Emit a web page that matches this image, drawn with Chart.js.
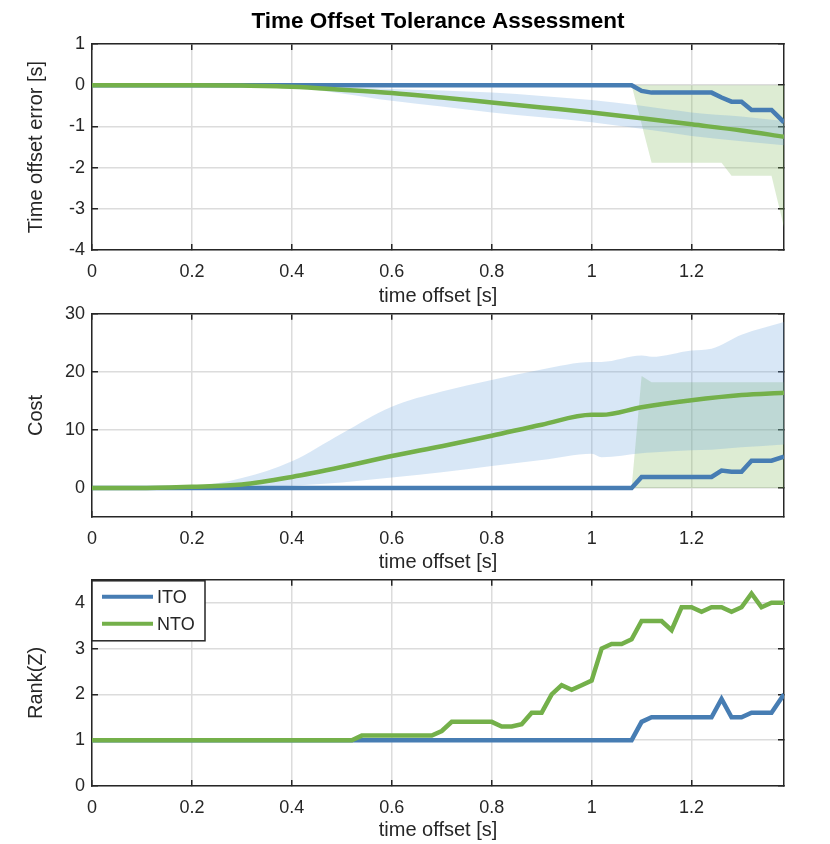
<!DOCTYPE html>
<html>
<head>
<meta charset="utf-8">
<script src="https://cdn.jsdelivr.net/npm/chart.js@4/dist/chart.umd.min.js"></script>
<style>
  body { margin: 0; background: #fff; }
  #fig { position: relative; width: 830px; height: 844px; }
  #fig canvas { position: absolute; left: 0; }
</style>
</head>
<body>
<div id="fig">
  <canvas id="errChart" width="830" height="310" style="top:0px"></canvas>
  <canvas id="costChart" width="830" height="287" style="top:290px"></canvas>
  <canvas id="rankChart" width="830" height="288" style="top:556px"></canvas>
</div>
<script>
// ---- data ----
const xTicks = [0, 0.2, 0.4, 0.6, 0.8, 1, 1.2];
const X_MAX = 1.385;

// time offset error [s]
const errItoX = [0, 1.08, 1.10, 1.12, 1.24, 1.26, 1.28, 1.30, 1.32, 1.36, 1.385];
const errItoY = [0, 0, -0.14, -0.18, -0.18, -0.3, -0.4, -0.4, -0.6, -0.6, -0.9];
const errNtoX = [0, 0.1, 0.2, 0.3, 0.4, 0.5, 0.6, 0.7, 0.8, 0.9, 1.0, 1.1, 1.2, 1.3, 1.385];
const errNtoY = [0, 0, 0, -0.01, -0.04, -0.11, -0.19, -0.3, -0.42, -0.54, -0.66, -0.8, -0.95, -1.1, -1.25];
const errBandX = [0, 0.3, 0.4, 0.5, 0.6, 0.7, 0.8, 0.9, 1.0, 1.1, 1.2, 1.3, 1.385];
const errBandHi = [0, 0, -0.02, -0.05, -0.09, -0.13, -0.18, -0.26, -0.36, -0.5, -0.66, -0.76, -0.87];
const errBandLo = [0, -0.01, -0.05, -0.2, -0.38, -0.52, -0.66, -0.78, -0.9, -1.06, -1.23, -1.36, -1.46];
const errBand2X = [1.08, 1.12, 1.26, 1.28, 1.36, 1.385];
const errBand2Hi = [0, 0, 0, 0, 0, 0];
const errBand2Lo = [0, -1.88, -1.88, -2.2, -2.2, -3.45];
const errTicks = [-4, -3, -2, -1, 0, 1];

// cost
const costItoX = [0, 1.08, 1.10, 1.24, 1.26, 1.28, 1.30, 1.32, 1.36, 1.385];
const costItoY = [0, 0, 1.9, 1.9, 3.0, 2.8, 2.8, 4.7, 4.7, 5.4];
const costNtoX = [0, 0.1, 0.2, 0.3, 0.4, 0.5, 0.6, 0.7, 0.8, 0.9, 1.0, 1.02, 1.1, 1.2, 1.3, 1.385];
const costNtoY = [0, 0, 0.2, 0.6, 1.9, 3.6, 5.5, 7.2, 9.0, 10.9, 12.6, 12.6, 13.9, 15.1, 16.0, 16.4];
const costBandX = [0, 0.2, 0.3, 0.4, 0.5, 0.6, 0.7, 0.8, 0.9, 1.0, 1.02, 1.1, 1.12, 1.2, 1.24, 1.3, 1.385];
const costBandHi = [0, 0.3, 1.7, 4.6, 9.4, 14.0, 16.6, 18.6, 20.4, 21.7, 21.7, 22.8, 22.6, 23.7, 24.0, 26.4, 28.6];
const costBandLo = [0, 0, 0.1, 0.4, 0.95, 1.8, 2.7, 3.8, 4.8, 5.9, 5.3, 6.0, 6.1, 6.5, 6.6, 7.0, 7.5];
const costBand2X = [1.08, 1.10, 1.12, 1.385];
const costBand2Hi = [0, 19.3, 18.2, 18.2];
const costBand2Lo = [0, 0, 0, 0];
const costTicks = [0, 10, 20, 30];

// rank(Z)
const rankItoX = [0, 1.08, 1.10, 1.12, 1.24, 1.26, 1.28, 1.30, 1.32, 1.36, 1.385];
const rankItoY = [1, 1, 1.4, 1.5, 1.5, 1.9, 1.5, 1.5, 1.6, 1.6, 2.0];
const rankNtoX = [0, 0.52, 0.54, 0.68, 0.70, 0.72, 0.80, 0.82, 0.84, 0.86, 0.88, 0.90, 0.92, 0.94, 0.96, 0.98,
  1.00, 1.02, 1.04, 1.06, 1.08, 1.10, 1.12, 1.14, 1.16, 1.18, 1.20, 1.22, 1.24, 1.26, 1.28, 1.30, 1.32, 1.34, 1.36, 1.385];
const rankNtoY = [1, 1, 1.1, 1.1, 1.2, 1.4, 1.4, 1.3, 1.3, 1.35, 1.6, 1.6, 2.0, 2.2, 2.1, 2.2,
  2.3, 3.0, 3.1, 3.1, 3.2, 3.6, 3.6, 3.6, 3.4, 3.9, 3.9, 3.8, 3.9, 3.9, 3.8, 3.9, 4.2, 3.9, 4.0, 4.0];
const rankTicks = [0, 1, 2, 3, 4];
const legendNames = ['ITO', 'NTO'];

// ---- styling ----
const ink = '#262626';
const gridColor = '#dcdcdc';
const itoColor = '#477DB3';
const ntoColor = '#74B04A';
const blueBand = 'rgba(100,160,220,0.25)';
const greenBand = 'rgba(120,180,80,0.25)';
const FONT = '"Liberation Sans", Arial, Helvetica, sans-serif';
Chart.defaults.font.family = FONT;
Chart.defaults.color = ink;

const pts = (xs, ys) => xs.map((x, i) => ({x: x, y: ys[i]}));
const fmt = (v) => String(Math.round(v * 100) / 100);
const fixedTicks = (values) => (scale) => { scale.ticks = values.map(v => ({value: v})); };

const lineSet = (label, xs, ys, color, smooth) => ({
  label: label,
  data: pts(xs, ys),
  borderColor: color,
  borderWidth: 4.5,
  pointRadius: 0,
  fill: false,
  cubicInterpolationMode: smooth ? 'monotone' : 'default',
  tension: 0,
});

// two datasets: invisible lower edge, then upper edge filled down to it
const bandSets = (xs, lo, hi, color, smooth) => [
  {data: pts(xs, lo), borderWidth: 0, pointRadius: 0, fill: false,
   cubicInterpolationMode: smooth ? 'monotone' : 'default'},
  {data: pts(xs, hi), borderWidth: 0, pointRadius: 0, fill: '-1', backgroundColor: color,
   cubicInterpolationMode: smooth ? 'monotone' : 'default'},
];

// the plot box spans x 92..784; left/right margins are split so the title centres over it
function makeScales(yMin, yMax, yTicks, yTitle, xAxisHeight, xTitlePad) {
  const gridTicks = {color: gridColor, lineWidth: 1.5, tickLength: -6, tickColor: ink, tickWidth: 1.5};
  const edge = {color: ink, width: 1.5};
  return {
    x: {
      type: 'linear', min: 0, max: X_MAX,
      afterBuildTicks: fixedTicks(xTicks),
      afterFit: (s) => { s.height = xAxisHeight; },
      grid: gridTicks, border: edge,
      ticks: {font: {size: 18}, padding: 17, color: ink, maxRotation: 0, callback: fmt},
      title: {display: true, text: 'time offset [s]', font: {size: 20}, color: ink,
              padding: {top: 0, bottom: xTitlePad}},
    },
    x2: {
      type: 'linear', position: 'top', min: 0, max: X_MAX,
      afterBuildTicks: fixedTicks(xTicks),
      afterFit: (s) => { s.height = 0; },
      grid: Object.assign({}, gridTicks, {drawOnChartArea: false}), border: edge,
      ticks: {display: false},
    },
    y: {
      type: 'linear', min: yMin, max: yMax,
      afterBuildTicks: fixedTicks(yTicks),
      afterFit: (s) => { s.width = 46; },
      grid: gridTicks, border: edge,
      ticks: {font: {size: 18}, padding: 13, color: ink, callback: fmt},
      title: {display: true, text: yTitle, font: {size: 20}, color: ink, padding: {top: -22, bottom: 0}},
    },
    y2: {
      type: 'linear', position: 'right', min: yMin, max: yMax,
      afterBuildTicks: fixedTicks(yTicks),
      afterFit: (s) => { s.width = 46; },
      grid: Object.assign({}, gridTicks, {drawOnChartArea: false}), border: edge,
      ticks: {display: false},
    },
  };
}

// legend box drawn inside the top-left of the plot area
const boxLegend = {
  id: 'boxLegend',
  afterDraw(chart) {
    const {ctx, chartArea} = chart;
    const left = chartArea.left, top = chartArea.top + 1;
    ctx.save();
    ctx.fillStyle = '#fff';
    ctx.fillRect(left, top, 113, 60);
    ctx.strokeStyle = ink;
    ctx.lineWidth = 1.5;
    ctx.strokeRect(left, top, 113, 60);
    legendNames.forEach((name, i) => {
      const ds = chart.data.datasets.find(d => d.label === name);
      const y = top + 16 + i * 27;
      ctx.strokeStyle = ds.borderColor;
      ctx.lineWidth = 4;
      ctx.beginPath();
      ctx.moveTo(left + 10, y);
      ctx.lineTo(left + 61, y);
      ctx.stroke();
      ctx.fillStyle = ink;
      ctx.font = '18px ' + FONT;
      ctx.textBaseline = 'middle';
      ctx.fillText(name, left + 65, y + 1);
    });
    ctx.restore();
  },
};

const baseOptions = (scales, padTop, title) => ({
  responsive: false,
  animation: false,
  layout: {padding: {top: padTop, right: 0, left: 46, bottom: 0}},
  scales: scales,
  plugins: {
    legend: {display: false},
    tooltip: {enabled: false},
    title: title || {display: false},
  },
});

new Chart(document.getElementById('errChart'), {
  type: 'line',
  data: {datasets: [
    lineSet('NTO', errNtoX, errNtoY, ntoColor, true),
    lineSet('ITO', errItoX, errItoY, itoColor, false),
    ...bandSets(errBandX, errBandLo, errBandHi, blueBand, true),
    ...bandSets(errBand2X, errBand2Lo, errBand2Hi, greenBand, false),
  ]},
  options: baseOptions(makeScales(-4, 1, errTicks, 'Time offset error [s]', 60, 2), 0, {
    display: true,
    text: 'Time Offset Tolerance Assessment',
    color: '#000',
    font: {size: 22.5, weight: 'bold'},
    padding: {top: 8, bottom: 9},
  }),
});

new Chart(document.getElementById('costChart'), {
  type: 'line',
  data: {datasets: [
    lineSet('NTO', costNtoX, costNtoY, ntoColor, true),
    lineSet('ITO', costItoX, costItoY, itoColor, false),
    ...bandSets(costBandX, costBandLo, costBandHi, blueBand, true),
    ...bandSets(costBand2X, costBand2Lo, costBand2Hi, greenBand, false),
  ]},
  options: baseOptions(makeScales(-5, 30, costTicks, 'Cost', 60, 3), 22),
});

new Chart(document.getElementById('rankChart'), {
  type: 'line',
  data: {datasets: [
    lineSet('NTO', rankNtoX, rankNtoY, ntoColor, false),
    lineSet('ITO', rankItoX, rankItoY, itoColor, false),
  ]},
  options: baseOptions(makeScales(0, 4.5, rankTicks, 'Rank(Z)', 58, 2), 22),
  plugins: [boxLegend],
});
</script>
</body>
</html>
